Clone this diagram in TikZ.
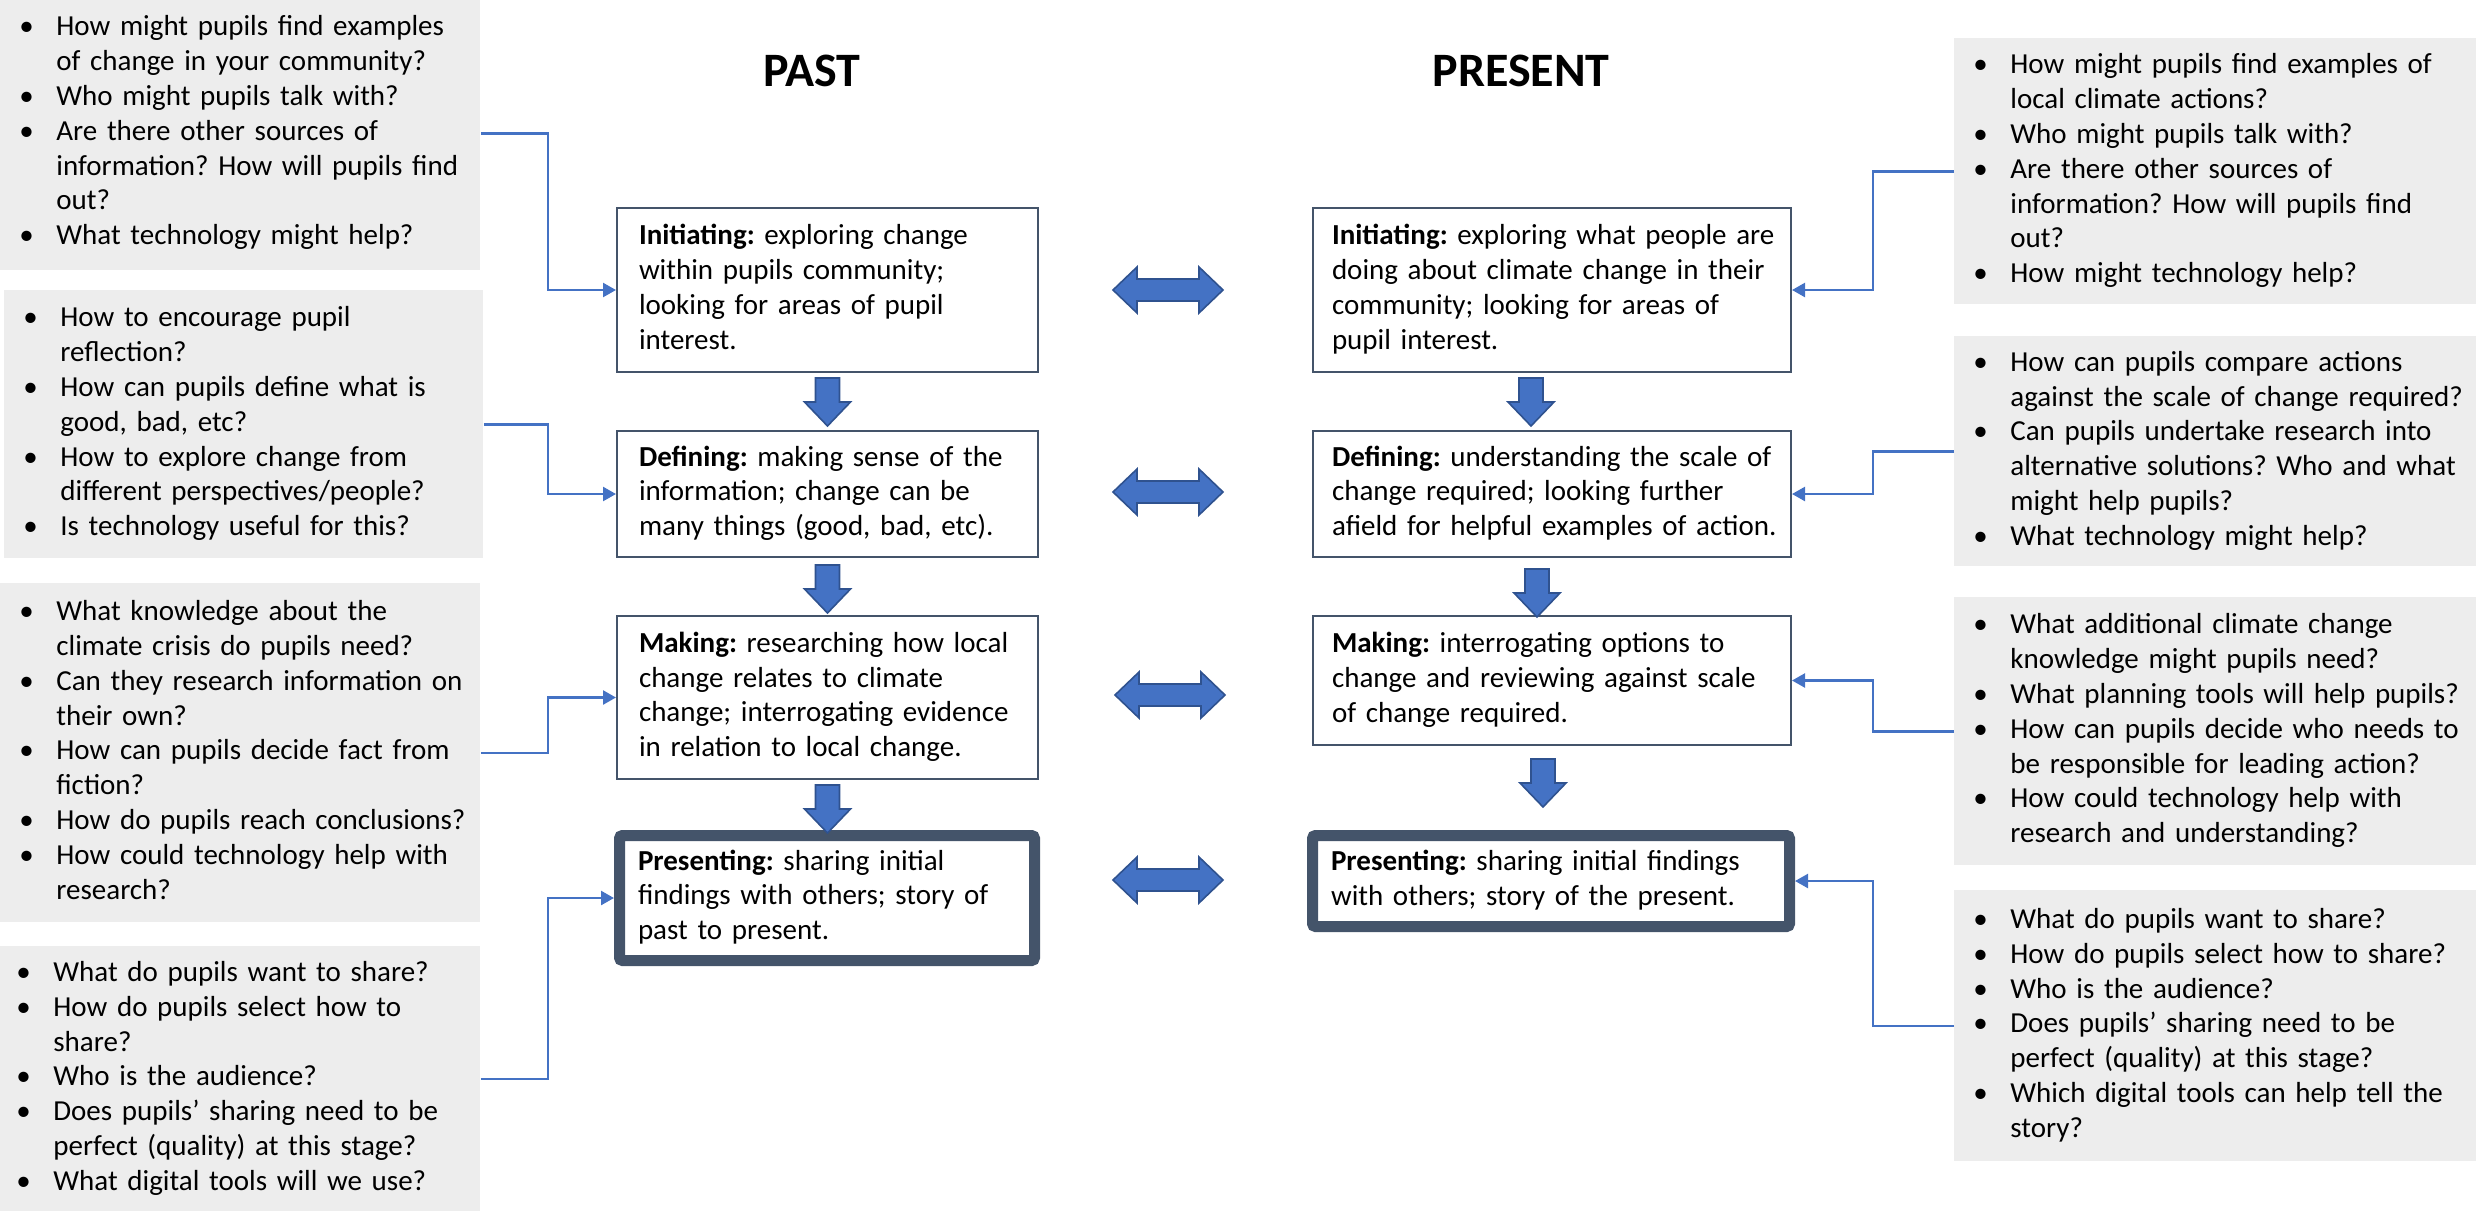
\documentclass[tikz,border=0pt]{standalone}
\usepackage{fontspec}
\setmainfont{Carlito}
\usetikzlibrary{arrows.meta,calc}

\definecolor{qgray}{HTML}{EDEDED}
\definecolor{linkblue}{HTML}{4472C4}
\definecolor{arrowedge}{HTML}{2F528F}
\definecolor{slate}{HTML}{44546A}

\frenchspacing
\newcommand\bodyfont{\fontsize{14.5pt}{17.4pt}\selectfont}
\newcommand\asklist[1]{\begin{tabular}{@{}p{17pt}@{}l@{}}#1\end{tabular}}
\newcommand\stagetext[1]{\begin{tabular}{@{}l@{}}#1\end{tabular}}
\newcommand\bul{\hspace*{-1.5pt}\textbullet}

\begin{document}
\begin{tikzpicture}[x=0.5pt,y=-0.5pt,
  qbox/.style={fill=qgray, anchor=north west, inner xsep=11pt, inner ysep=0pt,
    align=left, font=\bodyfont},
  stagebox/.style={draw=slate, line width=1pt, fill=white, anchor=north west,
    inner ysep=0pt, align=left, font=\bodyfont},
  keystage/.style={stagebox, line width=5.5pt, rounded corners=1.5pt, inner xsep=9.25pt},
  heading/.style={anchor=base, font=\fontsize{24pt}{28pt}\selectfont\bfseries},
  conn/.style={draw=linkblue, line width=1.2pt, -{Triangle[length=6.5pt,width=7pt]}},
  blockarr/.style={fill=linkblue, draw=arrowedge, line width=0.8pt},
  downarrow/.pic={\filldraw[blockarr] (-12,0) -- (12,0) -- (12,24) -- (23,24)
    -- (0,48) -- (-23,24) -- (-12,24) -- cycle;},
  bothways/.pic={\filldraw[blockarr] (-55,0) -- (-31,-23) -- (-31,-11) -- (31,-11)
    -- (31,-23) -- (55,0) -- (31,23) -- (31,11) -- (-31,11) -- (-31,23) -- cycle;}
]
\useasboundingbox (0,0) rectangle (2484,1211);

% column headings
\node[heading] (pastT) at (812,86) {PAST};
\node[heading] (presT) at (1521,86) {PRESENT};

% question boxes, past side
\node[qbox, minimum width=240pt, minimum height=137pt, text width=218pt] (L1) at (0,-4) {\asklist{
\bul & How might pupils find examples\\
 & of change in your community?\\
\bul & Who might pupils talk with?\\
\bul & Are there other sources of\\
 & information? How will pupils find\\
 & out?\\
\bul & What technology might help?}};

\node[qbox, minimum width=239.5pt, minimum height=134pt, text width=217.5pt] (L2) at (4,290) {\asklist{
\bul & How to encourage pupil\\
 & reflection?\\
\bul & How can pupils define what is\\
 & good, bad, etc?\\
\bul & How to explore change from\\
 & different perspectives/people?\\
\bul & Is technology useful for this?}};

\node[qbox, minimum width=240pt, minimum height=169.5pt, text width=218pt] (L3) at (0,583) {\asklist{
\bul & What knowledge about the\\
 & climate crisis do pupils need?\\
\bul & Can they research information on\\
 & their own?\\
\bul & How can pupils decide fact from\\
 & fiction?\\
\bul & How do pupils reach conclusions?\\
\bul & How could technology help with\\
 & research?}};

\node[qbox, inner xsep=9.5pt, minimum width=240pt, minimum height=132.5pt, text width=221pt] (L4) at (0,946) {\asklist{
\bul & What do pupils want to share?\\
\bul & How do pupils select how to\\
 & share?\\
\bul & Who is the audience?\\
\bul & Does pupils’ sharing need to be\\
 & perfect (quality) at this stage?\\
\bul & What digital tools will we use?}};

% question boxes, present side
\node[qbox, minimum width=261pt, minimum height=133pt, text width=239pt] (R1) at (1954,38) {\asklist{
\bul & How might pupils find examples of\\
 & local climate actions?\\
\bul & Who might pupils talk with?\\
\bul & Are there other sources of\\
 & information? How will pupils find\\
 & out?\\
\bul & How might technology help?}};

\node[qbox, minimum width=261pt, minimum height=115pt, text width=239pt] (R2) at (1954,336) {\asklist{
\bul & How can pupils compare actions\\
 & against the scale of change required?\\
\bul & Can pupils undertake research into\\
 & alternative solutions? Who and what\\
 & might help pupils?\\
\bul & What technology might help?}};

\node[qbox, minimum width=261pt, minimum height=134pt, text width=239pt] (R3) at (1954,597) {\asklist{
\bul & What additional climate change\\
 & knowledge might pupils need?\\
\bul & What planning tools will help pupils?\\
\bul & How can pupils decide who needs to\\
 & be responsible for leading action?\\
\bul & How could technology help with\\
 & research and understanding?}};

\node[qbox, minimum width=261pt, minimum height=135.5pt, text width=239pt] (R4) at (1954,890) {\asklist{
\bul & What do pupils want to share?\\
\bul & How do pupils select how to share?\\
\bul & Who is the audience?\\
\bul & Does pupils’ sharing need to be\\
 & perfect (quality) at this stage?\\
\bul & Which digital tools can help tell the\\
 & story?}};

% stages, past column
\node[stagebox, inner xsep=11pt, text width=188.5pt, minimum height=82pt] (PInit) at (616,207) {\stagetext{
\textbf{Initiating:} exploring change\\
within pupils community;\\
looking for areas of pupil\\
interest.}};
\node[stagebox, inner xsep=11pt, text width=188.5pt, minimum height=63pt] (PDef) at (616,430) {\stagetext{
\textbf{Defining:} making sense of the\\
information; change can be\\
many things (good, bad, etc).}};
\node[stagebox, inner xsep=11pt, text width=188.5pt, minimum height=81.5pt] (PMak) at (616,615) {\stagetext{
\textbf{Making:} researching how local\\
change relates to climate\\
change; interrogating evidence\\
in relation to local change.}};
\node[keystage, text width=189pt, minimum height=62.5pt] (PPres) at (614,830) {\stagetext{
\textbf{Presenting:} sharing initial\\
findings with others; story of\\
past to present.}};

% stages, present column
\node[stagebox, inner xsep=9.5pt, text width=220pt, minimum height=82pt] (RInit) at (1312,207) {\stagetext{
\textbf{Initiating:} exploring what people are\\
doing about climate change in their\\
community; looking for areas of\\
pupil interest.}};
\node[stagebox, inner xsep=9.5pt, text width=220pt, minimum height=63pt] (RDef) at (1312,430) {\stagetext{
\textbf{Defining:} understanding the scale of\\
change required; looking further\\
afield for helpful examples of action.}};
\node[stagebox, inner xsep=9.5pt, text width=220pt, minimum height=64.5pt] (RMak) at (1312,615) {\stagetext{
\textbf{Making:} interrogating options to\\
change and reviewing against scale\\
of change required.}};
\node[keystage, text width=220pt, minimum height=45.5pt] (RPres) at (1307,830) {\stagetext{
\textbf{Presenting:} sharing initial findings\\
with others; story of the present.}};

% step arrows down each column
\pic at ($(PInit.south)+(0,5)$) {downarrow};
\pic at ($(PDef.south)+(0,7)$) {downarrow};
\pic at ($(PMak.south)+(0,5)$) {downarrow};
\pic at ($(RInit.south)+(-21,5)$) {downarrow};
\pic at ($(RDef.south)+(-15,11)$) {downarrow};
\pic at ($(RMak.south)+(-9,13)$) {downarrow};

% links between past and present stages
\pic at (1168,290) {bothways};
\pic at (1168,492) {bothways};
\pic at (1170,695) {bothways};
\pic at (1168,880) {bothways};

% question boxes feeding the stages
\coordinate (lbus) at (548,0);
\coordinate (rbus) at (1873,0);
\draw[conn] (L1.east) -| (lbus |- PInit.west) -- (PInit.west);
\draw[conn] (L2.east) -| (lbus |- PDef.west) -- (PDef.west);
\draw[conn] (L3.east) -| (lbus |- PMak.west) -- (PMak.west);
\draw[conn] (L4.east) -| (lbus |- PPres.west) -- (PPres.west);
\draw[conn] (R1.west) -| (rbus |- RInit.east) -- (RInit.east);
\draw[conn] (R2.west) -| (rbus |- RDef.east) -- (RDef.east);
\draw[conn] (R3.west) -| (rbus |- RMak.east) -- (RMak.east);
\draw[conn] (R4.west) -| (rbus |- RPres.east) -- (RPres.east);
\end{tikzpicture}
\end{document}
